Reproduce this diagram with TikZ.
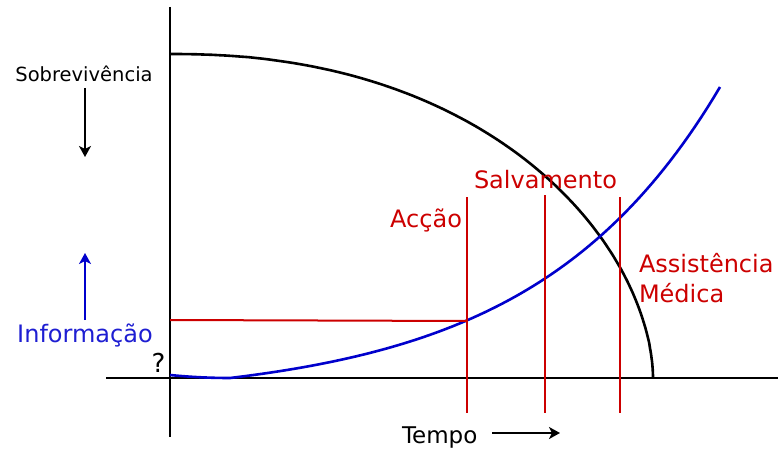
\documentclass[tikz,border=0pt]{standalone}
\usepackage{fontspec}
\setmainfont{DejaVu Sans}
\usetikzlibrary{arrows.meta}
\definecolor{myred}{RGB}{204,0,0}
\definecolor{myblue}{RGB}{0,0,204}
\definecolor{labblue}{RGB}{30,30,210}
\tikzset{
  axisline/.style={line width=2.4pt, black},
  curveblack/.style={line width=2.6pt, black},
  curveblue/.style={line width=2.6pt, myblue},
  redline/.style={line width=2pt, myred},
  lab/.style={inner sep=0pt, outer sep=0pt, anchor=base},
  redlab/.style={lab, text=myred, font=\fontsize{24}{28}\selectfont},
  arr/.style={line width=2.2pt, -{Stealth[length=11pt,width=12pt,inset=3pt]}}
}
\begin{document}
\begin{tikzpicture}[x=1pt,y=-1pt]
\useasboundingbox (0,0) rectangle (778,449);
% axes
\coordinate (vtop) at (170,7);
\coordinate (vbot) at (170,437);
\coordinate (hl) at (106,378);
\coordinate (hr) at (778,378);
\draw[axisline] (vtop) -- (vbot);
\draw[axisline] (hl) -- (hr);
% survival curve
\draw[curveblack] plot[domain=0.05:89.95, samples=120, variable=\t]
  ({170+483*(cos(\t))^(0.90909)}, {378-324*(sin(\t))^(1.11111)});
% information curve
\draw[curveblue] plot[domain=170:230, samples=12, variable=\x]
  ({\x}, {378-3*((230-\x)/60)^2})
  -- plot[domain=230:720, samples=80, variable=\x]
  ({\x}, {378-22.2*(exp(0.0054*(\x-230))-1)});
% red lines
\coordinate (a1) at (467,197); \coordinate (a2) at (467,413);
\coordinate (s1) at (545,195); \coordinate (s2) at (545,413);
\coordinate (m1) at (620,197); \coordinate (m2) at (620,413);
\coordinate (h1) at (170,320); \coordinate (h2) at (467,321);
\draw[redline] (a1) -- (a2);
\draw[redline] (s1) -- (s2);
\draw[redline] (m1) -- (m2);
\draw[redline] (h1) -- (h2);
% labels
\node[lab, font=\fontsize{19.5}{23}\selectfont] (sob) at (84,82) {Sobrevivência};
\coordinate (sa1) at (85,88); \coordinate (sa2) at (85,157);
\draw[arr] (sa1) -- (sa2);
\node[lab, text=labblue, font=\fontsize{24}{28}\selectfont] (inf) at (85,342) {Informação};
\coordinate (ia1) at (85,320); \coordinate (ia2) at (85,253);
\draw[arr, myblue] (ia1) -- (ia2);
\node[lab, font=\fontsize{26}{30}\selectfont] (q) at (158.5,372) {?};
\node[redlab, anchor=base east] (accao) at (462,227) {Acção};
\node[redlab, anchor=base west] (salv) at (474,188) {Salvamento};
\node[redlab, anchor=base west] (ass1) at (639,272) {Assistência};
\node[redlab, anchor=base west] (ass2) at (639,302) {Médica};
\node[lab, anchor=base west, font=\fontsize{23}{27}\selectfont] (tempo) at (402,443) {Tempo};
\coordinate (ta1) at (492,433); \coordinate (ta2) at (560,433);
\draw[arr] (ta1) -- (ta2);
\end{tikzpicture}
\end{document}
